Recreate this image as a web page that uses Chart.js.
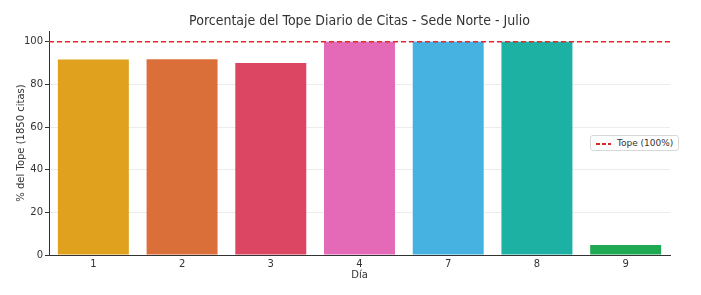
<!DOCTYPE html>
<html>
<head>
<meta charset="utf-8">
<script src="https://cdn.jsdelivr.net/npm/chart.js@4"></script>
<style>
  body { margin: 0; background: #fff; }
  #wrap { position: relative; width: 701px; height: 295px; }
  #legend {
    position: absolute; left: 590px; top: 135px;
    border: 1px solid #d8d8d8; border-radius: 3px; background: #fff;
    font: 9px "DejaVu Sans", sans-serif; color: #333;
    padding: 2px 5px; white-space: nowrap;
  }
  #legend span.sw {
    display: inline-block; width: 15px; height: 2px; vertical-align: middle; margin-right: 6px;
    background: repeating-linear-gradient(90deg, #d62728 0 4px, transparent 4px 6px);
  }
</style>
</head>
<body>
<div id="wrap">
  <canvas id="myChart" width="701" height="295"></canvas>
  <div id="legend"><span class="sw"></span>Tope (100%)</div>
</div>
<script>
const dias = ['1', '2', '3', '4', '7', '8', '9'];
const porcentajes = [91.6, 91.7, 90.0, 100, 100, 100, 4.7];
const colores = ['#e0a21e', '#db6f3a', '#dc4663', '#e46ab8', '#45b2e2', '#1db1a4', '#1fa955'];
const tope = 100;
const yTicks = [0, 20, 40, 60, 80, 100];
const titulo = 'Porcentaje del Tope Diario de Citas - Sede Norte - Julio';

const font = "'DejaVu Sans', sans-serif";

// linea de tope y titulo centrado sobre el area del grafico
const extras = {
  id: 'extras',
  afterDatasetsDraw(chart) {
    const ctx = chart.ctx;
    const area = chart.chartArea;
    const y = chart.scales.y.getPixelForValue(tope);
    ctx.save();
    ctx.strokeStyle = '#e0282e';
    ctx.lineWidth = 1.5;
    ctx.setLineDash([5, 3]);
    ctx.beginPath();
    ctx.moveTo(area.left, y);
    ctx.lineTo(area.right, y);
    ctx.stroke();
    ctx.restore();

    ctx.save();
    ctx.fillStyle = '#333';
    ctx.font = "14px 'DejaVu Sans Condensed', " + font;
    ctx.textAlign = 'center';
    ctx.textBaseline = 'middle';
    ctx.fillText(titulo, (area.left + area.right) / 2, 21);
    ctx.restore();
  }
};

const myChart = new Chart(document.getElementById('myChart'), {
  type: 'bar',
  data: {
    labels: dias,
    datasets: [{
      label: '% del Tope',
      data: porcentajes,
      backgroundColor: colores,
      barPercentage: 0.8,
      categoryPercentage: 1.0
    }]
  },
  options: {
    responsive: false,
    animation: false,
    layout: { padding: { left: 15, right: 31, top: 31, bottom: 14 } },
    plugins: {
      legend: { display: false },
      tooltip: { enabled: false },
      title: { display: false }
    },
    scales: {
      x: {
        grid: { display: false, drawTicks: true, tickLength: 3, tickColor: '#333' },
        border: { color: '#333', width: 1 },
        ticks: { color: '#333', font: { family: font, size: 10 }, padding: 0 },
        title: { display: true, text: 'Día', color: '#333', font: { family: font, size: 10 }, padding: { top: 0, bottom: 0 } },
        afterFit(scale) { scale.height = 26; }
      },
      y: {
        min: 0,
        max: 105,
        afterBuildTicks(scale) { scale.ticks = yTicks.map(v => ({ value: v })); },
        grid: { color: '#ececec', tickLength: 4, tickColor: '#333' },
        border: { color: '#333', width: 1 },
        ticks: { color: '#333', font: { family: font, size: 10 }, padding: 2 },
        title: { display: true, text: '% del Tope (1850 citas)', color: '#333', font: { family: font, size: 10 }, padding: { top: 0, bottom: 0 } },
        afterFit(scale) { scale.width = 34; }
      }
    }
  },
  plugins: [extras]
});
</script>
</body>
</html>
